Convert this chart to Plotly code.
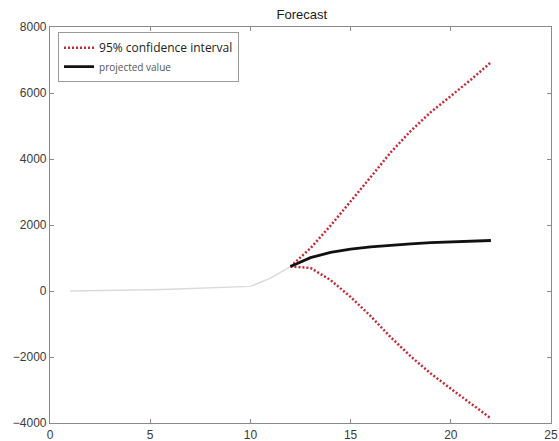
import plotly.graph_objects as go

# Historical observations
hist_x = [1, 2, 3, 4, 5, 6, 7, 8, 9, 10, 11, 12]
hist_y = [0, 5, 12, 20, 35, 55, 80, 110, 120, 140, 390, 740]

# Forecast horizon
fc_x = [12, 13, 14, 15, 16, 17, 18, 19, 20, 21, 22]
proj_y = [740, 1010, 1170, 1270, 1340, 1390, 1430, 1465, 1490, 1512, 1530]
upper_y = [740, 1300, 1980, 2700, 3450, 4200, 4850, 5420, 5910, 6400, 6930]
lower_y = [740, 700, 330, -180, -760, -1400, -1980, -2500, -2960, -3400, -3860]

x_ticks = [0, 5, 10, 15, 20, 25]
y_ticks = [-4000, -2000, 0, 2000, 4000, 6000, 8000]

red = "#c42a34"
axis_gray = "#8a8a8a"
font_main = "Liberation Sans, Arial, sans-serif"

fig = go.Figure()

fig.add_trace(go.Scatter(
    x=hist_x, y=hist_y, mode="lines",
    line=dict(color="#dadada", width=1.5),
    showlegend=False, hoverinfo="skip",
))
fig.add_trace(go.Scatter(
    x=fc_x, y=upper_y, mode="lines",
    line=dict(color=red, width=2.5, dash="2px,2px"),
    name="95% confidence interval", legendgroup="ci",
))
fig.add_trace(go.Scatter(
    x=fc_x, y=lower_y, mode="lines",
    line=dict(color=red, width=2.5, dash="2px,2px"),
    name="95% confidence interval", legendgroup="ci", showlegend=False,
))
fig.add_trace(go.Scatter(
    x=fc_x, y=proj_y, mode="lines",
    line=dict(color="#111111", width=2.8),
    name='<span style="font-size:10px;fill:#555">projected value</span>',
))

axis_common = dict(
    showline=True, linecolor=axis_gray, linewidth=1.2, mirror="ticks",
    ticks="inside", ticklen=4, tickcolor=axis_gray, tickwidth=1,
    showgrid=False, zeroline=False, automargin=False,
    ticklabeloverflow="allow",
    tickfont=dict(family=font_main, size=12, color="#3a3a3a"),
)

fig.update_layout(
    width=559, height=441,
    margin=dict(l=50, r=8, t=27, b=18),
    paper_bgcolor="white", plot_bgcolor="white",
    title=dict(
        text="Forecast", x=0.54, xref="container", xanchor="center",
        y=1 - 14 / 441, yref="container", yanchor="middle",
        font=dict(family=font_main, size=13, color="#1a1a1a"),
    ),
    xaxis=dict(range=[0, 25], tickvals=x_ticks, **axis_common),
    yaxis=dict(range=[-4000, 8000], tickvals=y_ticks, **axis_common),
    legend=dict(
        x=0.016, y=0.987, xanchor="left", yanchor="top",
        bgcolor="white", bordercolor="#9a9a9a", borderwidth=1,
        font=dict(family="Open Sans, Noto Sans, sans-serif", size=12, color="#222"),
        itemwidth=30, tracegroupgap=0,
    ),
)

fig.write_html(
    "out.html",
    config={"displayModeBar": False},
    post_script="document.body.style.margin='0';document.body.style.overflow='hidden';",
)
